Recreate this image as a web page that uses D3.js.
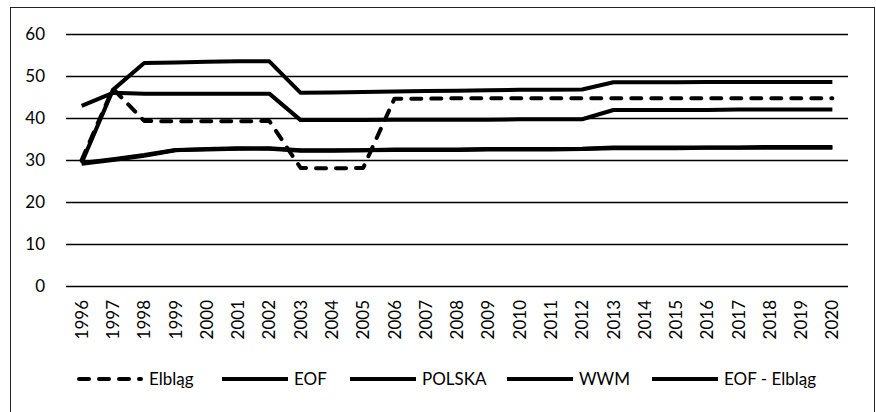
<!DOCTYPE html>
<html>
<head>
<meta charset="utf-8">
<script src="https://cdn.jsdelivr.net/npm/d3@7"></script>
<style>
	body{margin:0;background:#fff;}
	text{font-family:Lato, "Open Sans", sans-serif;fill:#000;}
</style>
</head>
<body>
<svg width="876" height="412"></svg>
<script>
var years = ["1996","1997","1998","1999","2000","2001","2002","2003","2004","2005","2006","2007","2008",
	"2009","2010","2011","2012","2013","2014","2015","2016","2017","2018","2019","2020"];

var yTicks = [0, 10, 20, 30, 40, 50, 60];

var seriesNames = ["Elbląg", "EOF", "POLSKA", "WWM", "EOF - Elbląg"];

var elblag    = [30.0, 47.0, 39.3, 39.2, 39.2, 39.2, 39.3, 28.1, 28.0, 28.1, 44.6, 44.6, 44.7, 44.7, 44.7, 44.7, 44.7, 44.7, 44.7, 44.7, 44.7, 44.7, 44.7, 44.7, 44.7];
var eof       = [29.3, 46.7, 53.1, 53.2, 53.4, 53.5, 53.5, 46.0, 46.1, 46.2, 46.3, 46.4, 46.5, 46.6, 46.7, 46.7, 46.8, 48.5, 48.5, 48.5, 48.6, 48.6, 48.6, 48.6, 48.6];
var polska    = [42.9, 46.0, 45.8, 45.8, 45.8, 45.8, 45.8, 39.5, 39.5, 39.5, 39.6, 39.6, 39.6, 39.6, 39.7, 39.7, 39.7, 41.9, 41.9, 41.9, 41.9, 42.0, 42.0, 42.0, 42.0];
var wwm       = [29.3, 30.2, 31.2, 32.4, 32.5, 32.7, 32.8, 32.3, 32.3, 32.3, 32.4, 32.4, 32.4, 32.5, 32.5, 32.5, 32.6, 32.8, 32.8, 32.8, 32.9, 32.9, 32.9, 32.9, 32.9];
var eofElblag = [29.1, 30.0, 31.0, 32.3, 32.6, 32.8, 32.7, 32.2, 32.2, 32.3, 32.5, 32.5, 32.5, 32.6, 32.6, 32.6, 32.7, 33.0, 33.0, 33.0, 33.0, 33.0, 33.1, 33.1, 33.1];

var seriesValues = [elblag, eof, polska, wwm, eofElblag];

var svg = d3.select("svg");

// ramka wykresu
svg.append("rect")
	.attr("x", 10.5).attr("y", 7.5)
	.attr("width", 864).attr("height", 420)
	.attr("fill", "none")
	.attr("stroke", "#222")
	.attr("stroke-width", 1);

var x = d3.scaleBand().domain(years).range([66, 848]).padding(0);
var y = d3.scaleLinear().domain([0, 60]).range([286, 34]);

// siatka + etykiety osi Y
var yAxis = svg.append("g")
	.attr("transform", "translate(66,0)")
	.call(d3.axisLeft(y).tickValues(yTicks).tickSize(-782).tickPadding(21));
yAxis.select(".domain").remove();
yAxis.selectAll(".tick line").attr("stroke", "#000").attr("stroke-width", 1.4);
yAxis.selectAll("text").style("font-size", "17px");

// etykiety osi X (pionowe)
var xAxis = svg.append("g")
	.attr("transform", "translate(0,286)")
	.call(d3.axisBottom(x).tickSize(0));
xAxis.select(".domain").remove();
xAxis.selectAll("text")
	.style("font-size", "17px")
	.attr("text-anchor", "end")
	.attr("transform", "rotate(-90)")
	.attr("x", -14)
	.attr("y", 0)
	.attr("dy", "0.36em");

var line = d3.line()
	.x(function(d, i){ return x(years[i]) + x.bandwidth() / 2; })
	.y(function(d){ return y(d); });

// najpierw linie ciągłe, przerywana na wierzchu
var order = [4, 3, 2, 1, 0];
order.forEach(function(k){
	svg.append("path")
		.datum(seriesValues[k])
		.attr("d", line)
		.attr("fill", "none")
		.attr("stroke", "#000")
		.attr("stroke-width", 4)
		.attr("stroke-linejoin", "round")
		.attr("stroke-linecap", k == 0 ? "round" : "butt")
		.attr("stroke-dasharray", k == 0 ? "10,10" : null);
});

// legenda
var legendX = [77, 222, 350, 507, 652];
var legend = svg.append("g").attr("transform", "translate(0,379)");
seriesNames.forEach(function(name, k){
	var g = legend.append("g").attr("transform", "translate(" + legendX[k] + ",0)");
	g.append("line")
		.attr("x1", k == 0 ? 2 : 0).attr("x2", k == 0 ? 64 : 66)
		.attr("y1", 0).attr("y2", 0)
		.attr("stroke", "#000")
		.attr("stroke-width", 4)
		.attr("stroke-linecap", k == 0 ? "round" : "butt")
		.attr("stroke-dasharray", k == 0 ? "10,10" : null);
	g.append("text")
		.attr("x", 72)
		.attr("dy", "0.36em")
		.style("font-size", "17px")
		.text(name);
});
</script>
</body>
</html>
